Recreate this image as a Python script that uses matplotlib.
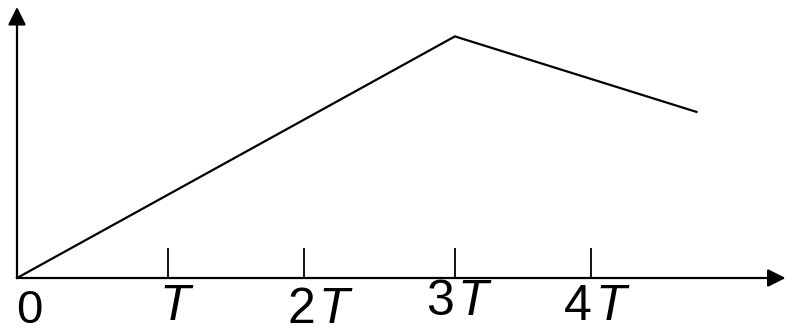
import matplotlib.pyplot as plt

plt.rcParams['font.family'] = 'Liberation Sans'
plt.rcParams['mathtext.fontset'] = 'custom'
plt.rcParams['mathtext.rm'] = 'Liberation Sans'
plt.rcParams['mathtext.it'] = 'Liberation Sans:italic'

# curve vertices (x in units of T)
curve_x = [0.0, 2.90, 4.50]
curve_y = [0.0, 1.60, 1.10]

# tick marks along the time axis
tick_pos = [1.0, 1.9, 2.9, 3.8]
tick_labels = ['$T$', r'$\mathit{2}\hspace{0.1}T$', r'$3\hspace{0.1}T$', r'$4\hspace{0.12}T$']

fig = plt.figure(figsize=(7.88, 3.32), dpi=100)
ax = fig.add_axes([0, 0, 1, 1])
ax.set_xlim(-17 / 151, 771 / 151)
ax.set_ylim(-54 / 151, 278 / 151)
ax.axis('off')

arrow = dict(arrowstyle='-|>', mutation_scale=27, lw=1.6, color='black',
             shrinkA=0, shrinkB=0)
ax.annotate('', xy=(5.09, 0), xytext=(0, 0), arrowprops=arrow)
ax.annotate('', xy=(0, 1.795), xytext=(0, 0), arrowprops=arrow)

ax.plot(curve_x, curve_y, color='black', lw=1.6, solid_joinstyle='miter')
ax.vlines(tick_pos, 0, 0.2, color='black', lw=1.3)

# labels sit a little off each tick, like a hand-made sketch
label_dx = [0.06, 0.11, 0.03, 0.04]
label_y = [-0.278, -0.298, -0.245, -0.278]
ax.text(0.08, -0.298, '0', fontsize=34, ha='center', va='baseline')
for p, lab, dx, y in zip(tick_pos, tick_labels, label_dx, label_y):
    ax.text(p + dx, y, lab, fontsize=36, ha='center', va='baseline')

fig.savefig('out.png', dpi=100)
